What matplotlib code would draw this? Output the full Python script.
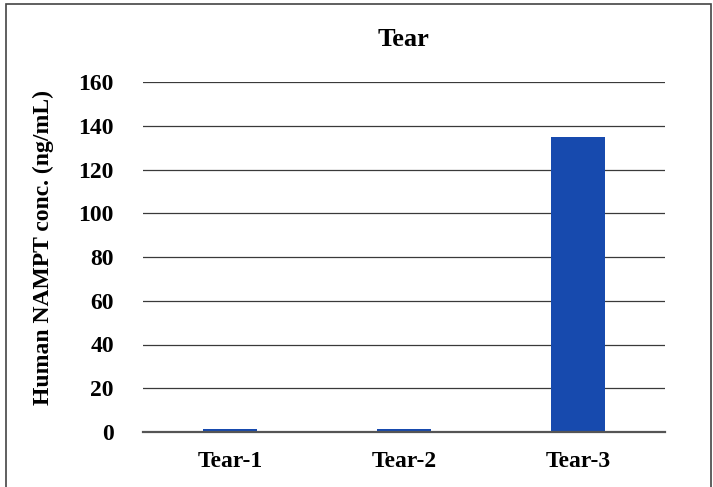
import matplotlib
matplotlib.use("Agg")
import matplotlib.pyplot as plt
from matplotlib.patches import Rectangle

categories = ["Tear-1", "Tear-2", "Tear-3"]
values = [1.4, 1.4, 135.0]
yticks = [0, 20, 40, 60, 80, 100, 120, 140, 160]

plt.rcParams['font.family'] = ['Liberation Serif', 'DejaVu Serif']
plt.rcParams['font.weight'] = 'bold'

fig = plt.figure(figsize=(7.13, 4.87), dpi=100)
ax = fig.add_axes([143/713, 1-432/487, (665-143)/713, (432-82)/487])

x = list(range(len(categories)))
ax.bar(x, values, width=0.31, color="#174AAE", zorder=3)
ax.set_xlim(-0.5, 2.5)
ax.set_ylim(0, 160)
ax.set_yticks(yticks)
ax.set_xticks(x)
ax.set_xticklabels(categories, fontsize=17, fontweight='bold')
ax.set_yticklabels([str(t) for t in yticks], fontsize=17, fontweight='bold')
ax.tick_params(axis='both', length=0)
ax.tick_params(axis='y', pad=21)
ax.tick_params(axis='x', pad=14)
ax.grid(axis='y', color="#3a3a3a", linewidth=0.9, zorder=0)
for s in ['top', 'right', 'left']:
    ax.spines[s].set_visible(False)
ax.spines['bottom'].set_color("#555555")
ax.spines['bottom'].set_linewidth(1.6)
ax.spines['bottom'].set_zorder(4)

ax.set_ylabel("Human NAMPT conc. (ng/mL)", fontsize=17, fontweight='bold')
ax.yaxis.set_label_coords(-0.17, 0.527)
ax.set_title("Tear", fontsize=19, fontweight='bold', pad=26)

fig.patches.append(Rectangle((6/713, -0.05), (711-6)/713, 1.05-4/487,
                             transform=fig.transFigure, fill=False,
                             edgecolor="#444444", linewidth=1.2))

fig.savefig("out.png", dpi=100)
